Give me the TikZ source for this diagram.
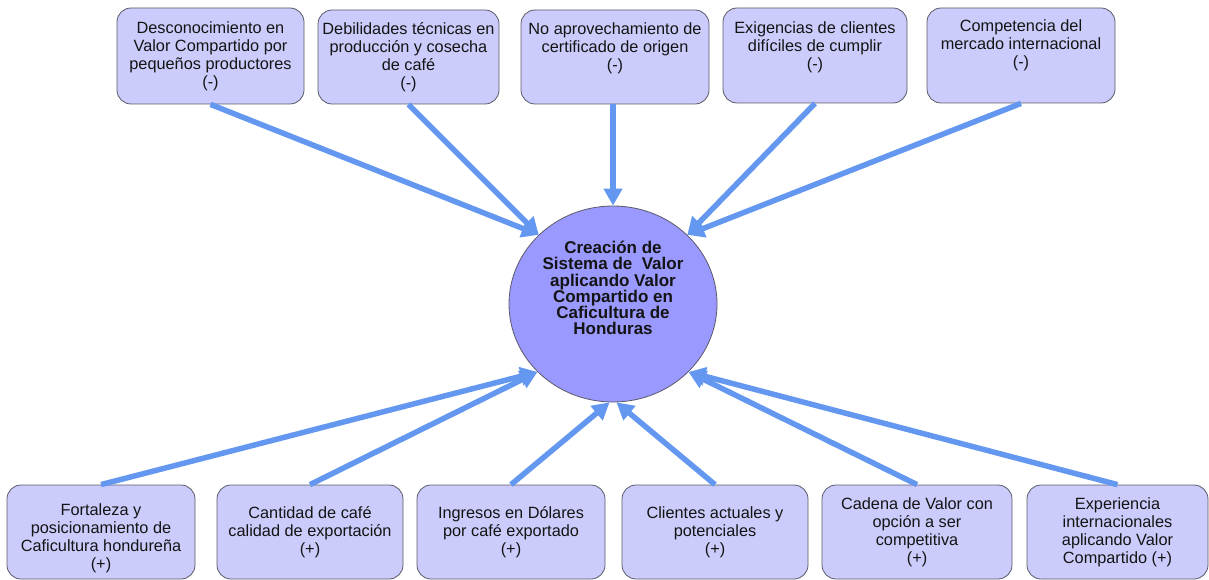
\documentclass[tikz,border=0pt]{standalone}
\usepackage{fontspec}
\setmainfont{Liberation Sans}
\usetikzlibrary{arrows.meta,shapes.geometric}
\definecolor{boxfill}{RGB}{204,204,252}
\definecolor{circfill}{RGB}{153,153,255}
\definecolor{edgec}{RGB}{90,90,105}
\definecolor{arrowc}{RGB}{100,152,240}
\definecolor{txt}{RGB}{20,20,20}
\newcommand{\dn}[1]{\rule[-#1]{0pt}{#1}}
\newcommand{\pad}[1]{\rule{0pt}{#1}}
\begin{document}
\begin{tikzpicture}[x=1pt,y=-1pt,
  box/.style={draw=edgec, line width=0.8pt, fill=boxfill, rounded corners=14pt,
    align=center, inner sep=0pt, text=txt, font=\fontsize{16.3}{18}\selectfont},
  hub/.style={ellipse, draw=edgec, line width=0.8pt, fill=circfill,
    minimum width=208pt, minimum height=196pt, inner sep=0pt, align=center,
    text=txt, font=\bfseries\fontsize{17}{16.2}\selectfont},
  conn/.style={draw=arrowc, line width=5.5pt, -{Triangle[length=17pt,width=18pt]}}]
\useasboundingbox (0,0) rectangle (1209,580);

% top row
\node[box, minimum width=187pt, minimum height=96pt] (t1) at (210.5,56)
  {Desconocimiento en\\Valor Compartido por\\pequeños productores\\(-)};
\node[box, minimum width=181pt, minimum height=94pt] (t2) at (408.5,57)
  {Debilidades técnicas en\\producción y cosecha\\de café\\(-)};
\node[box, minimum width=188pt, minimum height=94pt] (t3) at (615,57)
  {No aprovechamiento de\\certificado de origen\\(-)\dn{20pt}};
\node[box, minimum width=184pt, minimum height=95pt] (t4) at (815,55.5)
  {Exigencias de clientes\\difíciles de cumplir\\(-)\dn{20pt}};
\node[box, minimum width=188pt, minimum height=95pt] (t5) at (1021,55.5)
  {Competencia del\\mercado internacional\\(-)\dn{24pt}};

% bottom row
\node[box, minimum width=188pt, minimum height=94pt] (b1) at (101,532)
  {\pad{25pt}Fortaleza y\\posicionamiento de\\Caficultura hondureña\\(+)};
\node[box, minimum width=186pt, minimum height=94pt] (b2) at (310,532)
  {Cantidad de café\\calidad de exportación\\(+)};
\node[box, minimum width=188pt, minimum height=94pt] (b3) at (511,532)
  {Ingresos en Dólares\\por café exportado\\(+)};
\node[box, minimum width=186pt, minimum height=94pt] (b4) at (715,532)
  {Clientes actuales y\\potenciales\\(+)};
\node[box, minimum width=190pt, minimum height=94pt] (b5) at (917,532)
  {Cadena de Valor con\\opción a ser\\competitiva\\(+)};
\node[box, minimum width=181pt, minimum height=94pt] (b6) at (1117.5,532)
  {Experiencia\\internacionales\\aplicando Valor\\Compartido (+)};

% hub
\node[hub] (c) at (613,304)
  {Creación de\\Sistema de~ Valor\\aplicando Valor\\Compartido en\\Caficultura de\\Honduras\dn{32pt}};

% connectors
\draw[conn] (t1.south) -- (c.137);
\draw[conn] (t2.south) -- (c.137);
\draw[conn] (c.north |- t3.south) -- (c.north);
\draw[conn] (t4.south) -- (c.43);
\draw[conn] (t5.south) -- (c.43);
\draw[conn] (b1.north) -- (c.222);
\draw[conn] (b2.north) -- (c.222);
\draw[conn] (b3.north) -- (c.268);
\draw[conn] (b4.north) -- (c.272);
\draw[conn] (b5.north) -- (c.318);
\draw[conn] (b6.north) -- (c.318);
\end{tikzpicture}
\end{document}
